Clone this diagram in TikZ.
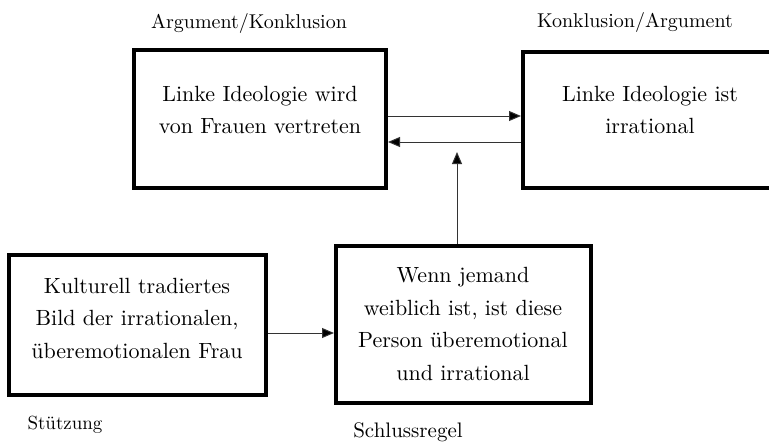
\documentclass[tikz,border=0pt]{standalone}
\usepackage{fontspec}
\setmainfont{lmroman10-regular.otf}
\usetikzlibrary{arrows.meta}
\begin{document}
\begin{tikzpicture}[x=1pt,y=-1pt,
  box/.style={draw,line width=4pt,inner sep=0pt,anchor=center},
  boxtext/.style={align=center,inner sep=0pt,font=\fontsize{22}{32.5}\selectfont},
  lbl/.style={inner sep=0pt,font=\fontsize{20}{22}\selectfont},
  arr/.style={draw=black!80,line width=1pt,-{Triangle[length=12pt,width=10pt,fill=black]}}]
\useasboundingbox (0,0) rectangle (769,444);
% boxes
\node[box,minimum width=252pt,minimum height=138pt] (b1) at (260,119) {};
\node[box,minimum width=277pt,minimum height=136pt] (b2) at (661.5,120) {};
\node[box,minimum width=257pt,minimum height=140pt] (b3) at (137.5,325) {};
\node[box,minimum width=255pt,minimum height=157pt] (b4) at (463.5,324.5) {};
% box texts
\node[boxtext] (t1) at (260,110) {Linke Ideologie wird\\von Frauen vertreten};
\node[boxtext] (t2) at (650,110) {Linke Ideologie ist\\irrational};
\node[boxtext] (t3) at (137,318) {Kulturell tradiertes\\Bild der irrationalen,\\überemotionalen Frau};
\node[boxtext] (t4) at (463,324) {Wenn jemand\\weiblich ist, ist diese\\Person überemotional\\und irrational};
% labels
\node[lbl] (l1) at (249,24) {Argument/Konklusion};
\node[lbl] (l2) at (635,23) {Konklusion/Argument};
\node[lbl,font=\fontsize{19}{22}\selectfont] (l3) at (65,425) {Stützung};
\node[lbl,font=\fontsize{21}{22}\selectfont] (l4) at (408,432) {Schlussregel};
% connectors
\coordinate (yu) at (0,116);
\coordinate (yl) at (0,142);
\coordinate (yb) at (0,333);
\coordinate (tip) at (457,152);
\draw[arr] (b1.east |- yu) -- (b2.west |- yu);
\draw[arr] (b2.west |- yl) -- (b1.east |- yl);
\draw[arr] (b4.north -| tip) -- (tip);
\draw[arr] (b3.east |- yb) -- (b4.west |- yb);
\end{tikzpicture}
\end{document}
